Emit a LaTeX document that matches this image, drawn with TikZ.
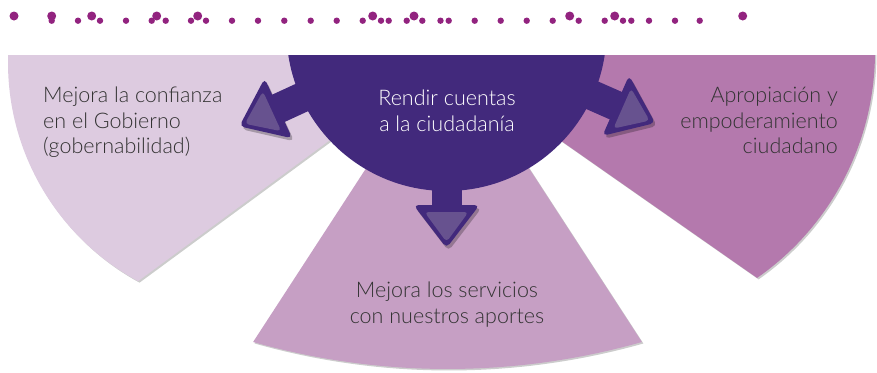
\documentclass[tikz,border=0pt]{standalone}
\usepackage{fontspec}
\setmainfont{Lato}[UprightFont=* Light]
\definecolor{dotc}{HTML}{92237F}
\definecolor{secL}{HTML}{DDCBE0}
\definecolor{secB}{HTML}{C69FC4}
\definecolor{secR}{HTML}{B479AD}
\definecolor{hub}{HTML}{42297C}
\definecolor{tri}{HTML}{67528F}
\definecolor{txt}{HTML}{333333}
\newcommand\hubarrow[2]{%
  \begin{scope}[shift={(448.5,34)}, rotate=#1]
    \fill[arrowshadow, rounded corners=5pt] (#2,33) -- (#2+43,0) -- (#2,-33) -- cycle;
  \end{scope}
  \begin{scope}[shift={(446.5,31)}, rotate=#1]
    \fill[hub] (140,-15) rectangle (#2+3,15);
    \fill[hub, rounded corners=5pt] (#2,33) -- (#2+43,0) -- (#2,-33) -- cycle;
    \fill[tri, rounded corners=4pt] (#2+7,22) -- (#2+37,0) -- (#2+7,-22) -- cycle;
  \end{scope}}
\begin{document}
\begin{tikzpicture}[x=1pt,y=-1pt,
  lbl/.style={inner sep=0pt, text=txt, font=\fontsize{21.5}{25.5}\selectfont},
  secshadow/.style={fill=black, opacity=0.2},
  arrowshadow/.style={fill=black, opacity=0.25},
  bigdot/.style={fill=dotc},
  pathL/.style={insert path={(8,40) -- plot[domain=184:118.4, samples=50] ({256+248*cos(\x)}, {63+248*sin(\x)}) -- (360,118) -- (360,40) -- cycle}},
  pathR/.style={insert path={(535,40) -- (535,122.6) -- plot[domain=55.1:-5, samples=50] ({599.4+275.6*cos(\x)}, {51.9+275.6*sin(\x)}) -- (874,40) -- cycle}},
  pathB/.style={insert path={(447.5,43) -- plot[domain=105.8:74.2, samples=60] ({447.5+714*cos(\x)}, {-345+714*sin(\x)}) -- cycle}}]
\useasboundingbox (0,0) rectangle (877,372);
% dots
\foreach \px in {14,51.7,91.7,156.7,197.7,372.7,414,569.7,614.7,742.7}
  \fill[bigdot] (\px,16) circle[radius=4.5];
\foreach \px in {51.7,78,100,126,151.7,165.7,191,206,232,258,284.3,310.7,336.7,362.7,381,388.7,406.7,422.3,440.5,448.7,474.7,500.7,526.7,552.7,578.7,604.7,623,631.3,649,675,699.7}
  \fill[bigdot] (\px,20.7) circle[radius=3.2];
\begin{scope}
  \clip (0,55) rectangle (877,372);
  \fill[secshadow, shift={(1.5,1.5)}, pathL];
  \fill[secL, pathL];
  \fill[secshadow, shift={(1.5,1.5)}, pathR];
  \fill[secR, pathR];
  \fill[secshadow, shift={(1.5,1.5)}, pathB];
  \fill[secB, pathB];
  \hubarrow{204.7}{185}
  \hubarrow{-23.8}{185}
  \hubarrow{-90}{174}
  \fill[hub] (446.5,31) circle[radius=160];
\end{scope}
\node[lbl, anchor=north west, align=left] (tl) at (43,87) {Mejora la confianza\\en el Gobierno\\(gobernabilidad)};
\node[lbl, anchor=north east, align=right] (tr) at (838,87) {Apropiación y\\empoderamiento\\ciudadano};
\node[lbl, anchor=north, align=center, text=white] (tc) at (447,90) {Rendir cuentas\\a la ciudadanía};
\node[lbl, anchor=north, align=center] (tb) at (447,282) {Mejora los servicios\\con nuestros aportes};
\end{tikzpicture}
\end{document}
